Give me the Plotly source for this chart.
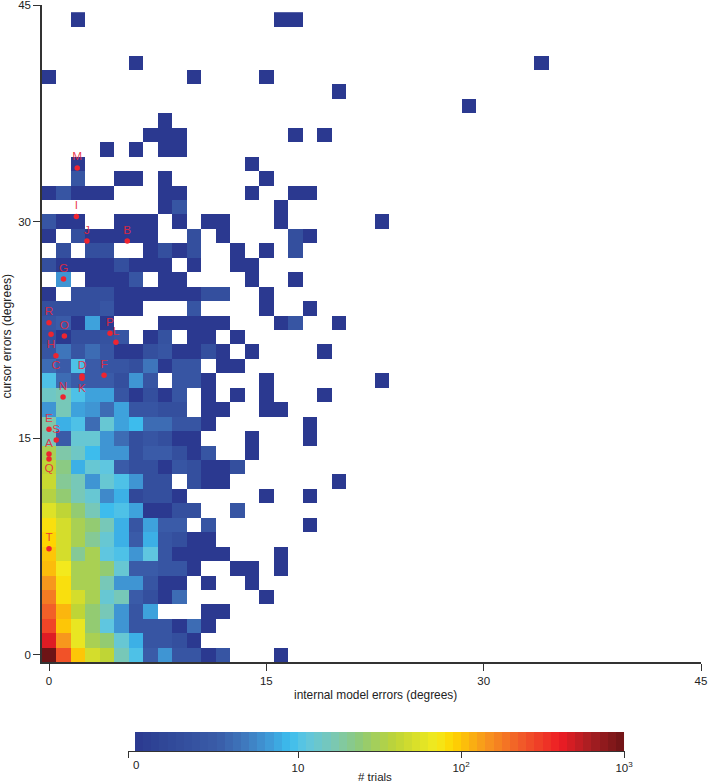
import plotly.graph_objects as go

_ = None
W, H = 708, 782
# log10(trials) in tenths for each cell; rows are cursor error 0,1,2...; columns internal model error 0,1,2...
row_00 = [30,24,20,17,16,12,10,5,8,4,4,0,4,_,_,_,0]
row_01 = [26.5,21.5,18,15,14,11,9,4,4,3,0]
row_02 = [24.5,20,18,14,10.5,8,4,4,4,0,6,0]
row_03 = [23.5,20.5,16,14,12,8,4,8.5,_,_,_,0,0]
row_04 = [22.5,19,17,15,11,12,5,3,0,6,_,_,_,_,_,0]
row_05 = [21.5,19,15,15,12,8,8,4,0,0,_,0,_,_,0]
row_06 = [20.3,18.5,15,15,14,11,5,5,4,4,0,_,_,0,0,_,0]
row_07 = [20,17,13,15,10.5,10,8,10.5,4,0,0,0,0,_,_,_,0]
row_08 = [19.5,17,15,13,11,9,5,9,4,3,0,0]
row_09 = [19,17,15,14,12,9,4,8.5,5,5,_,4,_,_,_,_,_,_,0]
row_10 = [17.5,16,14,12,9.5,10,8.5,0,0,3,3,_,_,4]
row_11 = [15.5,14,12,11,7.5,9,2,3,3,0,_,_,_,_,_,0,_,_,0]
row_12 = [16.5,13,12,8,11,10,8,3,3,_,3,0,0,_,_,_,_,_,_,_,0]
row_13 = [16,13.5,9,11,10.5,5,3,3,0,4,3,0,0,3]
row_14 = [15,12.5,11.5,9.5,8,8,3,5,5,3,0,4,_,_,0]
row_15 = [12,5,11,11,8,6,3,4,3,0,0,_,_,_,0,_,_,_,0]
row_16 = [12.5,9,10,6,11,8.5,9.5,6,6,4,4,0,_,_,_,_,_,_,0]
row_17 = [8,12,8.5,8,6,8.5,4,4,3,3,_,0,0,_,_,0,0]
row_18 = [11.5,12,10,8.5,8.5,4,0,3,0,4,_,0,_,0,_,0,_,_,_,0]
row_19 = [10,6,5,5,5,3,8,4,_,4,4,0,_,_,_,0,_,_,_,_,_,_,_,0]
row_20 = [6,5,10,5,4,4,3,6.5,0,4,4,_,0,0]
row_21 = [4,6.5,4,6,4,0,0,3,4,0,0,3,0,_,0,_,_,_,_,0]
row_22 = [3,0,3,3,3.5,4,_,0,3.5,_,0,0,_,0]
row_23 = [4,5,0,8.5,0,_,_,_,0,0,0,0,0,_,_,_,0,4,_,_,0]
row_24 = [3,3,3,3,4,0,0,_,_,_,4,_,_,_,_,0,_,_,0]
row_25 = [0,_,3,3,3,0,0,0,0,0,0,3,3,_,_,0]
row_26 = [_,8,_,0,0,0,4,_,0,0,_,_,_,_,0,_,_,0]
row_27 = [3,0,0,0,0,3,0,0,0,_,0,_,_,0,0]
row_28 = [_,3,_,3,3,_,_,0,3,0,3,_,_,0,_,0,_,3]
row_29 = [0,_,3,0,0,0,0,0,_,_,3,_,0,_,_,_,_,3,0]
row_30 = [4,0,0,_,_,0,0,0,_,0,_,0,0,_,_,_,0,_,_,_,_,_,_,0]
row_31 = [_,_,_,_,_,_,_,_,0,4,_,_,_,_,_,_,0]
row_32 = [0,4,0,0,0,_,_,_,0,0,_,_,_,_,0,_,_,0,0]
row_33 = [_,_,4,_,_,0,0,_,0,_,_,_,_,_,_,0]
row_34 = [_,_,0,_,_,_,_,_,_,_,_,_,_,_,0]
row_35 = [_,_,_,_,0,_,0,_,0,0]
row_36 = [_,_,_,_,_,_,_,0,0,0,_,_,_,_,_,_,_,0,_,0]
row_37 = [_,_,_,_,_,_,_,_,0]
row_38 = [_]*29 + [0]
row_39 = [_]*20 + [0]
row_40 = [0,_,_,_,_,_,_,_,_,_,0,_,_,_,_,0]
row_41 = [_,_,_,_,_,_,0] + [_]*27 + [0]
row_42 = []
row_43 = []
row_44 = [_,_,0,_,_,_,_,_,_,_,_,_,_,_,_,_,0,0]

rows = [row_00,row_01,row_02,row_03,row_04,row_05,row_06,row_07,row_08,row_09,
        row_10,row_11,row_12,row_13,row_14,row_15,row_16,row_17,row_18,row_19,
        row_20,row_21,row_22,row_23,row_24,row_25,row_26,row_27,row_28,row_29,
        row_30,row_31,row_32,row_33,row_34,row_35,row_36,row_37,row_38,row_39,
        row_40,row_41,row_42,row_43,row_44]
grid = [r + [None] * (45 - len(r)) for r in rows]

point_names = ["A","B","C","D","E","F","G","H","I","J","K","L","M","N","O","P","Q","R","S","T"]
point_x = [0,5.4,0.48,2.28,0,3.8,1.0,0.14,1.89,2.62,2.28,4.62,1.95,0.97,1.06,4.21,0,0,0.5,0]
point_y = [13.91,28.65,20.71,19.31,15.62,19.36,26.02,22.19,30.36,28.65,19.15,21.64,33.72,17.85,22.08,22.26,13.56,23.0,14.88,7.34]
labels_below = ["C","H","K","Q"]

colorbar_levels = [i * 0.5 + 0.25 for i in range(60)]
colorbar_ticks = [10, 20, 30]
colorbar_labels = ["10", "10<sup>2</sup>", "10<sup>3</sup>"]

stops = [(0,"#2b3990"),(0.05,"#2f4596"),(0.17,"#3a5ca8"),(0.23,"#3f7cc0"),(0.27,"#3f97d5"),
         (0.315,"#3bbcee"),(0.35,"#5fc6e0"),(0.41,"#7cc8b0"),(0.46,"#8fca78"),(0.53,"#bdd437"),
         (0.615,"#f2ea1e"),(0.65,"#ffd500"),(0.72,"#f7941e"),(0.79,"#f15a29"),(0.87,"#ed1c24"),
         (0.93,"#a81e22"),(1,"#6d1416")]
FONT = "Liberation Sans"
AX = "#333333"
TXT = "#222222"

fig = go.Figure()
fig.add_trace(go.Heatmap(x=list(range(45)), y=list(range(45)), z=grid, zmin=0, zmax=30,
                         colorscale=stops, showscale=False, hoverongaps=False))
fig.add_trace(go.Scatter(
    x=point_x, y=point_y, mode="markers+text", text=point_names,
    textposition=["bottom center" if n in labels_below else "top center" for n in point_names],
    marker=dict(color="#ee2430", size=5.5),
    textfont=dict(family=FONT, size=11.8, color="rgba(232,40,60,0.9)"),
    showlegend=False, cliponaxis=False))
fig.add_trace(go.Heatmap(x=colorbar_levels, y=[0], z=[colorbar_levels], zmin=0, zmax=30,
                         colorscale=stops, showscale=False, xaxis="x2", yaxis="y2"))

def px_x(p): return p / W
def px_y(p): return 1 - p / H

def note(text, x, y, size=11.5, angle=0):
    return dict(text=text, x=px_x(x), y=px_y(y), xref="paper", yref="paper", textangle=angle,
                showarrow=False, xanchor="center", yanchor="middle",
                font=dict(family=FONT, size=size, color=TXT))

fig.update_layout(
    template="none",
    width=W, height=H, margin=dict(l=0, r=0, t=0, b=0, pad=0),
    paper_bgcolor="white", plot_bgcolor="white", showlegend=False,
    font=dict(family=FONT, size=11.5, color=TXT),
    xaxis=dict(domain=[px_x(42), px_x(701)], range=[-0.483, 45], tickvals=[0,15,30,45], automargin=False,
               ticks="outside", ticklen=7, tickcolor=AX, tickwidth=1, showgrid=False, zeroline=False,
               showline=True, linecolor=AX, linewidth=1.5, ticklabeloverflow="allow"),
    yaxis=dict(domain=[px_y(662), px_y(5)], range=[-0.5, 45], tickvals=[0,15,30,45], automargin=False,
               ticks="outside", ticklen=7, tickcolor=AX, tickwidth=1, showgrid=False, zeroline=False,
               showline=True, linecolor=AX, linewidth=1.5, ticklabeloverflow="allow"),
    xaxis2=dict(domain=[px_x(128), px_x(625)], range=[-0.43, 30.06], anchor="y2", automargin=False,
                tickvals=colorbar_ticks, ticktext=colorbar_labels, ticklabeloverflow="allow",
                ticks="outside", ticklen=6, tickcolor=AX, tickwidth=1, showgrid=False, zeroline=False,
                showline=True, linecolor=AX, linewidth=1.2,
                minor=dict(tickvals=[-0.43], ticks="outside", ticklen=6, tickcolor=AX, tickwidth=1)),
    yaxis2=dict(domain=[px_y(751), px_y(732)], anchor="x2", visible=False, range=[-0.5, 0.5]),
    annotations=[
        note("0", 135.5, 765),
        note("internal model errors (degrees)", 375.5, 695, 11.9),
        note("cursor errors (degrees)", 6.5, 336, 12.2, -90),
        note("# trials", 375, 776.5),
    ],
)
fig.write_html("out.html", config={"displayModeBar": False},
               post_script="document.body.style.margin='0';")
